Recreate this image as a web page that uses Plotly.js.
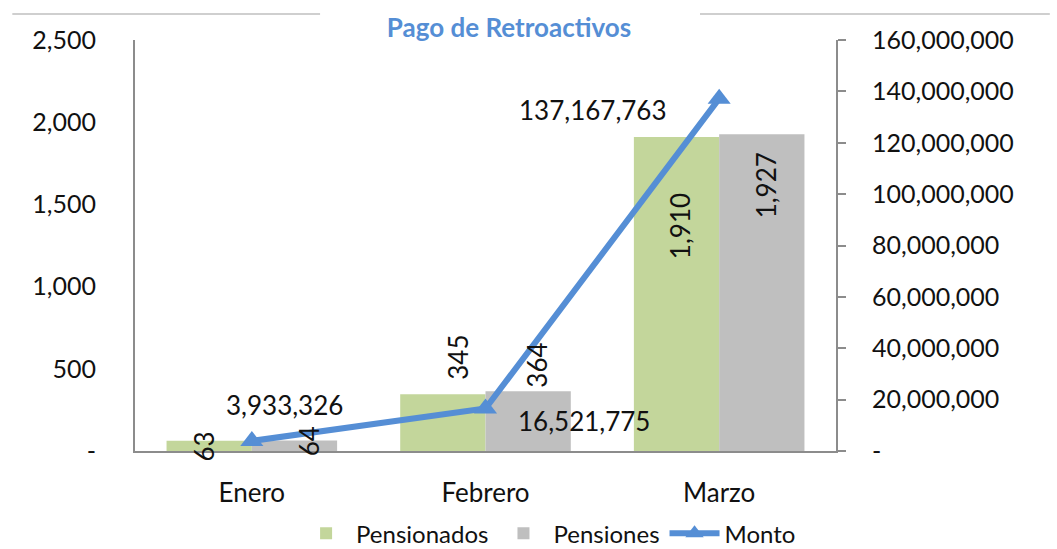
<!DOCTYPE html>
<html>
<head>
<meta charset="utf-8">
<script src="https://cdn.plot.ly/plotly-3.0.1.min.js"></script>
<style>
  html, body { margin: 0; padding: 0; background: #fff; }
  #chart { width: 1057px; height: 549px; }
</style>
</head>
<body>
<div id="chart"></div>
<script>
const months       = ["Enero", "Febrero", "Marzo"];
const pensionados  = [63, 345, 1910];
const pensiones    = [64, 364, 1927];
const monto        = [3933326, 16521775, 137167763];
const leftTicks    = [0, 500, 1000, 1500, 2000, 2500];
const rightTicks   = [0, 20000000, 40000000, 60000000, 80000000, 100000000, 120000000, 140000000, 160000000];

// label nudges (px) to sit where the original workbook put them
const nudgePensionados = [[-48, -6], [-27, 37], [-39, -89]];
const nudgePensiones   = [[58, -1], [52, 26], [47, -51]];
const nudgeMonto       = [[33, 36], [98, -12], [-126, -11]];

const FONT = "Lato, 'Open Sans', sans-serif";
const GREEN = "#c3d69b";
const GREY = "#bfbfbf";
const BLUE = "#558ed5";
const AXIS = "#8c8c8c";

const fmt = (v) => v === 0 ? "-" : v.toLocaleString("en-US");

const traces = [
    { x: months, y: pensionados, name: "Pensionados", type: "bar",
      marker: { color: GREEN }, hoverinfo: "skip" },
    { x: months, y: pensiones, name: "Pensiones", type: "bar",
      marker: { color: GREY }, hoverinfo: "skip" },
    { x: months, y: monto, name: "Monto", type: "scatter", mode: "lines+markers",
      yaxis: "y2", line: { color: BLUE, width: 6 },
      marker: { color: BLUE, symbol: "triangle-up", size: 20 }, hoverinfo: "skip" },
];

const annotations = [];
months.forEach((m, i) => {
    annotations.push({ x: m, y: pensionados[i], xref: "x", yref: "y", text: fmt(pensionados[i]),
        textangle: -90, showarrow: false, xshift: nudgePensionados[i][0], yshift: nudgePensionados[i][1],
        font: { size: 26, color: "#111" } });
    annotations.push({ x: m, y: pensiones[i], xref: "x", yref: "y", text: fmt(pensiones[i]),
        textangle: -90, showarrow: false, xshift: nudgePensiones[i][0], yshift: nudgePensiones[i][1],
        font: { size: 26, color: "#111" } });
    annotations.push({ x: m, y: monto[i], xref: "x", yref: "y2", text: fmt(monto[i]),
        showarrow: false, xshift: nudgeMonto[i][0], yshift: nudgeMonto[i][1],
        font: { size: 26, color: "#111" } });
});

const layout = {
    width: 1057, height: 549,
    margin: { t: 40, b: 98, l: 135, r: 221, autoexpand: false },
    paper_bgcolor: "#fff",
    plot_bgcolor: "#fff",
    font: { family: FONT, size: 25, color: "#111" },
    title: {
        text: "<b>Pago de Retroactivos</b>",
        font: { family: FONT, size: 26, color: BLUE },
        x: 0.4815, xref: "container", xanchor: "center",
        y: 0.949, yref: "container", yanchor: "middle",
    },
    barmode: "group",
    bargap: 0.27,
    bargroupgap: 0,
    showlegend: true,
    legend: {
        orientation: "h", x: 0.59, xanchor: "center",
        yref: "container", y: 0.028, yanchor: "middle",
        font: { size: 24 }, traceorder: "normal", itemwidth: 50,
        tracegroupgap: 0,
    },
    xaxis: {
        type: "category", showline: true, linecolor: AXIS, linewidth: 2,
        ticks: "", showgrid: false, ticklabelstandoff: 18, fixedrange: true,
        tickfont: { size: 26 },
    },
    yaxis: {
        range: [0, 2500], tickvals: leftTicks, ticktext: leftTicks.map(fmt),
        showline: true, linecolor: AXIS, linewidth: 2, ticks: "",
        showgrid: false, zeroline: false, ticklabelstandoff: 32, fixedrange: true,
    },
    yaxis2: {
        range: [0, 160000000], tickvals: rightTicks, ticktext: rightTicks.map(fmt),
        overlaying: "y", side: "right",
        showline: true, linecolor: AXIS, linewidth: 2,
        ticks: "outside", ticklen: 8, tickcolor: AXIS, tickwidth: 2,
        showgrid: false, zeroline: false, ticklabelstandoff: 21, fixedrange: true,
    },
    shapes: [
        { type: "line", xref: "paper", yref: "paper", x0: -0.175, x1: 0.264, y0: 1.063, y1: 1.063,
          line: { color: "#bfbfbf", width: 1.5 } },
        { type: "line", xref: "paper", yref: "paper", x0: 0.806, x1: 1.305, y0: 1.063, y1: 1.063,
          line: { color: "#bfbfbf", width: 1.5 } },
    ],
    annotations,
};

Plotly.newPlot("chart", traces, layout, { responsive: false, displayModeBar: false, staticPlot: true });
</script>
</body>
</html>
